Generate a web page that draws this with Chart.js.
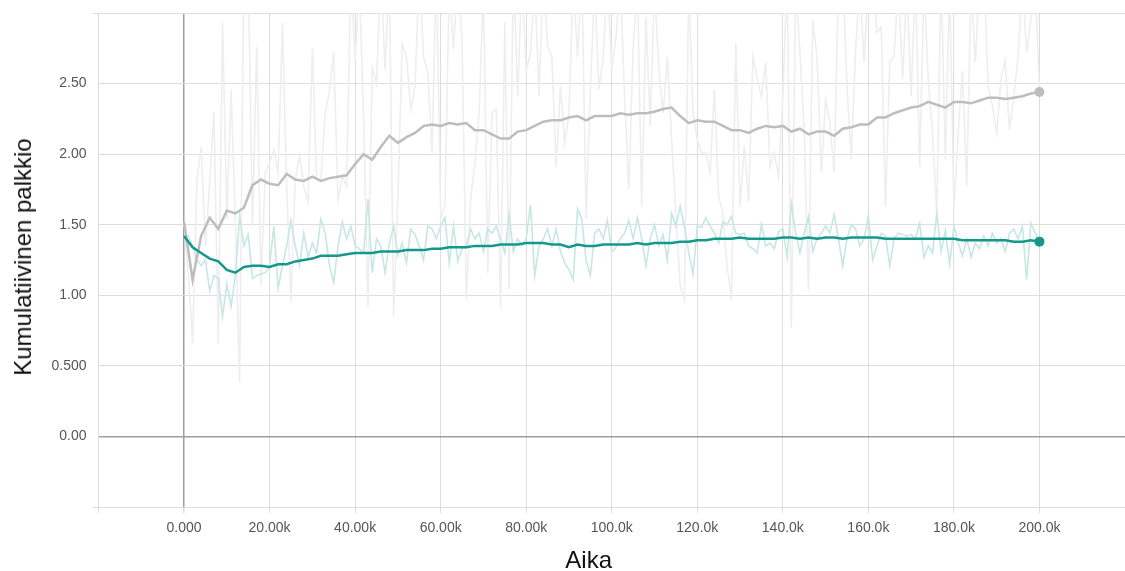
<!DOCTYPE html>
<html>
<head>
<meta charset="utf-8">
<script src="https://cdn.jsdelivr.net/npm/chart.js@4.4.1/dist/chart.umd.min.js"></script>
<style>
  html, body { margin: 0; padding: 0; background: #fff; }
  #wrap { position: relative; width: 1125px; height: 571px; overflow: hidden; }
  canvas { position: absolute; left: 0; top: 0; }
  .axis-title {
    position: absolute;
    font-family: "Liberation Sans", Arial, sans-serif;
    font-size: 24px;
    line-height: 24px;
    color: #111;
    white-space: nowrap;
  }
  #xTitle { left: 588.7px; top: 548px; transform: translateX(-50%); }
  #yTitle { left: 23.4px; top: 256.7px; transform: translate(-50%, -50%) rotate(-90deg); }
</style>
</head>
<body>
<div id="wrap">
  <canvas id="c" width="1125" height="571"></canvas>
  <div id="xTitle" class="axis-title">Aika</div>
  <div id="yTitle" class="axis-title">Kumulatiivinen palkkio</div>
</div>
<script>
// Training steps: raw values logged every 1k steps, smoothed curve sampled every 2k steps.
const RAW_STEP = 1000;
const SMOOTH_STEP = 2000;

// Run A (teal) – raw episode reward
const tealRaw = [
  1.42, 1.42, 1.35, 1.25, 1.21, 1.25, 1.03, 1.14, 1.12, 0.85,
  1.08, 0.92, 1.14, 1.56, 1.35, 1.43, 1.12, 1.14, 1.15, 1.16,
  1.21, 1.49, 1.05, 1.21, 1.35, 1.53, 1.35, 1.21, 1.44, 1.27,
  1.37, 1.30, 1.54, 1.44, 1.21, 1.09, 1.35, 1.52, 1.40, 1.49,
  1.35, 1.33, 1.30, 1.68, 1.16, 1.40, 1.35, 1.16, 1.37, 1.49,
  1.28, 1.37, 1.23, 1.47, 1.43, 1.35, 1.25, 1.49, 1.47, 1.40,
  1.49, 1.55, 1.23, 1.49, 1.24, 1.33, 1.35, 1.47, 1.40, 1.44,
  1.31, 1.47, 1.44, 1.49, 1.40, 1.30, 1.57, 1.31, 1.40, 1.35,
  1.40, 1.64, 1.14, 1.35, 1.40, 1.47, 1.35, 1.47, 1.31, 1.23,
  1.18, 1.11, 1.61, 1.54, 1.25, 1.14, 1.44, 1.47, 1.40, 1.53,
  1.31, 1.34, 1.40, 1.44, 1.53, 1.40, 1.55, 1.40, 1.21, 1.40,
  1.50, 1.35, 1.43, 1.25, 1.58, 1.49, 1.63, 1.49, 1.30, 1.15,
  1.49, 1.48, 1.55, 1.49, 1.44, 1.37, 1.52, 1.50, 1.56, 1.44,
  1.43, 1.44, 1.35, 1.33, 1.30, 1.50, 1.35, 1.37, 1.33, 1.45,
  1.47, 1.27, 1.65, 1.44, 1.30, 1.44, 1.56, 1.31, 1.40, 1.44,
  1.49, 1.44, 1.57, 1.40, 1.21, 1.40, 1.50, 1.47, 1.35, 1.40,
  1.56, 1.25, 1.35, 1.44, 1.42, 1.21, 1.40, 1.44, 1.43, 1.42,
  1.43, 1.40, 1.51, 1.27, 1.35, 1.30, 1.58, 1.31, 1.46, 1.22,
  1.49, 1.37, 1.28, 1.40, 1.27, 1.37, 1.33, 1.42, 1.35, 1.44,
  1.37, 1.40, 1.31, 1.44, 1.47, 1.40, 1.49, 1.11, 1.51, 1.44,
  1.38
];

// Run B (grey) – raw episode reward
const greyRaw = [
  1.52, 1.16, 0.66, 1.82, 2.05, 1.35, 1.80, 2.30, 0.66, 2.93,
  1.54, 2.46, 1.51, 0.38, 3.40, 3.30, 1.49, 2.76, 1.07, 1.87,
  1.94, 2.03, 1.87, 2.93, 1.77, 0.95, 1.82, 1.99, 1.77, 1.66,
  2.75, 1.82, 1.82, 2.29, 2.45, 2.72, 1.68, 1.84, 1.77, 3.25,
  2.67, 3.20, 2.25, 0.92, 2.61, 2.50, 3.30, 2.60, 3.25, 0.85,
  1.70, 2.78, 2.69, 2.32, 2.48, 3.30, 2.69, 2.58, 2.01, 3.35,
  1.54, 1.64, 3.20, 2.74, 3.25, 2.81, 0.97, 1.68, 1.94, 2.30,
  3.20, 1.16, 2.29, 2.32, 0.91, 2.93, 1.04, 3.30, 2.41, 3.25,
  2.59, 2.72, 3.20, 2.41, 3.30, 2.76, 2.69, 1.91, 2.48, 2.08,
  2.29, 3.25, 2.69, 3.30, 1.54, 2.46, 3.20, 2.46, 2.69, 3.25,
  2.60, 2.83, 3.25, 2.40, 1.75, 2.76, 3.20, 1.63, 2.97, 2.20,
  3.20, 2.60, 2.29, 2.69, 2.10, 1.58, 1.07, 0.97, 3.20, 2.29,
  2.10, 2.01, 2.01, 1.87, 2.46, 1.70, 1.58, 1.20, 0.97, 2.79,
  1.63, 2.06, 1.66, 2.69, 2.53, 2.41, 2.65, 1.91, 2.01, 1.84,
  2.41, 3.25, 0.77, 3.20, 2.72, 2.17, 1.04, 2.95, 2.69, 1.87,
  2.39, 2.22, 1.87, 3.20, 3.30, 2.48, 1.96, 2.74, 3.20, 2.65,
  3.25, 3.30, 2.86, 2.90, 1.63, 2.65, 2.69, 3.20, 2.53, 3.20,
  2.41, 3.25, 1.91, 3.20, 2.53, 2.15, 1.58, 3.30, 1.96, 3.20,
  1.61, 2.15, 2.59, 1.77, 3.20, 2.65, 3.25, 3.30, 2.48, 2.34,
  2.15, 2.53, 2.67, 2.17, 2.41, 2.69, 3.20, 2.72, 2.95, 3.25,
  2.43
];

// Run A (teal) – smoothed curve
const tealSmooth = [
  1.42, 1.34, 1.30, 1.26, 1.24, 1.18, 1.16, 1.20, 1.21, 1.21,
  1.20, 1.22, 1.22, 1.24, 1.25, 1.26, 1.28, 1.28, 1.28, 1.29,
  1.30, 1.30, 1.30, 1.31, 1.31, 1.31, 1.32, 1.32, 1.32, 1.33,
  1.33, 1.34, 1.34, 1.34, 1.35, 1.35, 1.35, 1.36, 1.36, 1.36,
  1.37, 1.37, 1.37, 1.36, 1.36, 1.34, 1.36, 1.35, 1.35, 1.36,
  1.36, 1.36, 1.36, 1.37, 1.36, 1.37, 1.37, 1.37, 1.38, 1.38,
  1.39, 1.39, 1.40, 1.40, 1.40, 1.41, 1.40, 1.40, 1.40, 1.40,
  1.41, 1.41, 1.40, 1.41, 1.40, 1.41, 1.41, 1.40, 1.41, 1.41,
  1.41, 1.41, 1.40, 1.40, 1.40, 1.40, 1.40, 1.40, 1.40, 1.40,
  1.40, 1.39, 1.39, 1.39, 1.39, 1.39, 1.39, 1.38, 1.38, 1.39,
  1.38
];

// Run B (grey) – smoothed curve
const greySmooth = [
  1.52, 1.11, 1.42, 1.55, 1.47, 1.60, 1.58, 1.62, 1.78, 1.82,
  1.79, 1.78, 1.86, 1.82, 1.81, 1.84, 1.81, 1.83, 1.84, 1.85,
  1.93, 2.00, 1.96, 2.05, 2.13, 2.08, 2.12, 2.15, 2.20, 2.21,
  2.20, 2.22, 2.21, 2.22, 2.17, 2.17, 2.14, 2.11, 2.11, 2.16,
  2.17, 2.20, 2.23, 2.24, 2.24, 2.26, 2.27, 2.24, 2.27, 2.27,
  2.27, 2.29, 2.28, 2.29, 2.29, 2.30, 2.32, 2.33, 2.27, 2.22,
  2.24, 2.23, 2.23, 2.20, 2.17, 2.17, 2.15, 2.18, 2.20, 2.19,
  2.20, 2.16, 2.18, 2.14, 2.16, 2.16, 2.13, 2.18, 2.19, 2.21,
  2.21, 2.26, 2.26, 2.29, 2.31, 2.33, 2.34, 2.37, 2.35, 2.33,
  2.37, 2.37, 2.36, 2.38, 2.40, 2.40, 2.39, 2.40, 2.41, 2.43,
  2.44
];

// Axis grid positions and their labels ('' = unlabelled edge line)
const xGridValues = [-20000, 0, 20000, 40000, 60000, 80000, 100000, 120000, 140000, 160000, 180000, 200000, 220000];
const xTickLabels = ['', '0.000', '20.00k', '40.00k', '60.00k', '80.00k', '100.0k', '120.0k', '140.0k', '160.0k', '180.0k', '200.0k', ''];
const yGridValues = [-0.5, 0, 0.5, 1.0, 1.5, 2.0, 2.5, 3.0];
const yTickLabels = ['', '0.00', '0.500', '1.00', '1.50', '2.00', '2.50', ''];

const COLORS = {
  teal: '#14988a',
  tealRaw: '#c6e7e3',
  grey: '#bdbdbd',
  greyRaw: '#eeeeee',
  grid: '#dddddd',
  zero: '#9e9e9e',
  tick: '#555555'
};

const toPoints = (vals, step) => vals.map((v, i) => ({ x: i * step, y: v }));
const lastDot = (n) => (ctx) => (ctx.dataIndex === n - 1 ? 5 : 0);
const labelFor = (values, labels) => (v) => {
  const i = values.findIndex((g) => Math.abs(g - v) < 1e-9);
  return i >= 0 ? labels[i] : '';
};
const tickFont = { family: '"Liberation Sans", Arial, sans-serif', size: 14 };

new Chart(document.getElementById('c'), {
  type: 'line',
  data: {
    datasets: [
      {
        label: 'A (tasoitettu)',
        data: toPoints(tealSmooth, SMOOTH_STEP),
        borderColor: COLORS.teal,
        backgroundColor: COLORS.teal,
        borderWidth: 2.5,
        pointRadius: lastDot(tealSmooth.length),
        pointBorderWidth: 0,
        tension: 0,
        order: 0
      },
      {
        label: 'B (tasoitettu)',
        data: toPoints(greySmooth, SMOOTH_STEP),
        borderColor: COLORS.grey,
        backgroundColor: COLORS.grey,
        borderWidth: 2.5,
        pointRadius: lastDot(greySmooth.length),
        pointBorderWidth: 0,
        tension: 0,
        order: 1
      },
      {
        label: 'A',
        data: toPoints(tealRaw, RAW_STEP),
        borderColor: COLORS.tealRaw,
        borderWidth: 1.6,
        pointRadius: 0,
        tension: 0,
        order: 2
      },
      {
        label: 'B',
        data: toPoints(greyRaw, RAW_STEP),
        borderColor: COLORS.greyRaw,
        borderWidth: 1.6,
        pointRadius: 0,
        tension: 0,
        order: 3
      }
    ]
  },
  options: {
    responsive: false,
    animation: false,
    events: [],
    layout: { autoPadding: false, padding: { top: 13, right: 0, left: 0, bottom: 0 } },
    plugins: {
      legend: { display: false },
      tooltip: { enabled: false }
    },
    scales: {
      x: {
        type: 'linear',
        min: -20000,
        max: 220000,
        afterBuildTicks: (scale) => { scale.ticks = xGridValues.map((v) => ({ value: v })); },
        afterFit: (scale) => {
          scale.height = 64;
          scale.paddingLeft = 0;
          scale.paddingRight = 0;
        },
        border: { display: false },
        grid: {
          color: (ctx) => ctx.tick.value === 0 ? COLORS.zero : (ctx.tick.value === 220000 ? 'rgba(0,0,0,0)' : COLORS.grid),
          lineWidth: (ctx) => ctx.tick.value === 0 ? 1.5 : 1,
          tickColor: (ctx) => ctx.tick.value === 220000 ? 'rgba(0,0,0,0)' : COLORS.grid,
          tickLength: 6
        },
        ticks: {
          autoSkip: false,
          maxRotation: 0,
          padding: 7,
          color: COLORS.tick,
          font: tickFont,
          callback: labelFor(xGridValues, xTickLabels)
        }
      },
      y: {
        type: 'linear',
        min: -0.5,
        max: 3.0,
        afterBuildTicks: (scale) => { scale.ticks = yGridValues.map((v) => ({ value: v })); },
        afterFit: (scale) => {
          scale.width = 98.5;
          scale.paddingTop = 0;
          scale.paddingBottom = 0;
        },
        border: { display: false },
        grid: {
          color: (ctx) => ctx.tick.value === 0 ? COLORS.zero : COLORS.grid,
          lineWidth: (ctx) => ctx.tick.value === 0 ? 1.5 : 1,
          tickColor: (ctx) => (ctx.tick.value === -0.5 || ctx.tick.value === 3.0) ? COLORS.grid : 'rgba(0,0,0,0)',
          tickLength: 6
        },
        ticks: {
          padding: 6,
          color: COLORS.tick,
          font: tickFont,
          callback: labelFor(yGridValues, yTickLabels)
        }
      }
    }
  }
});
</script>
</body>
</html>
